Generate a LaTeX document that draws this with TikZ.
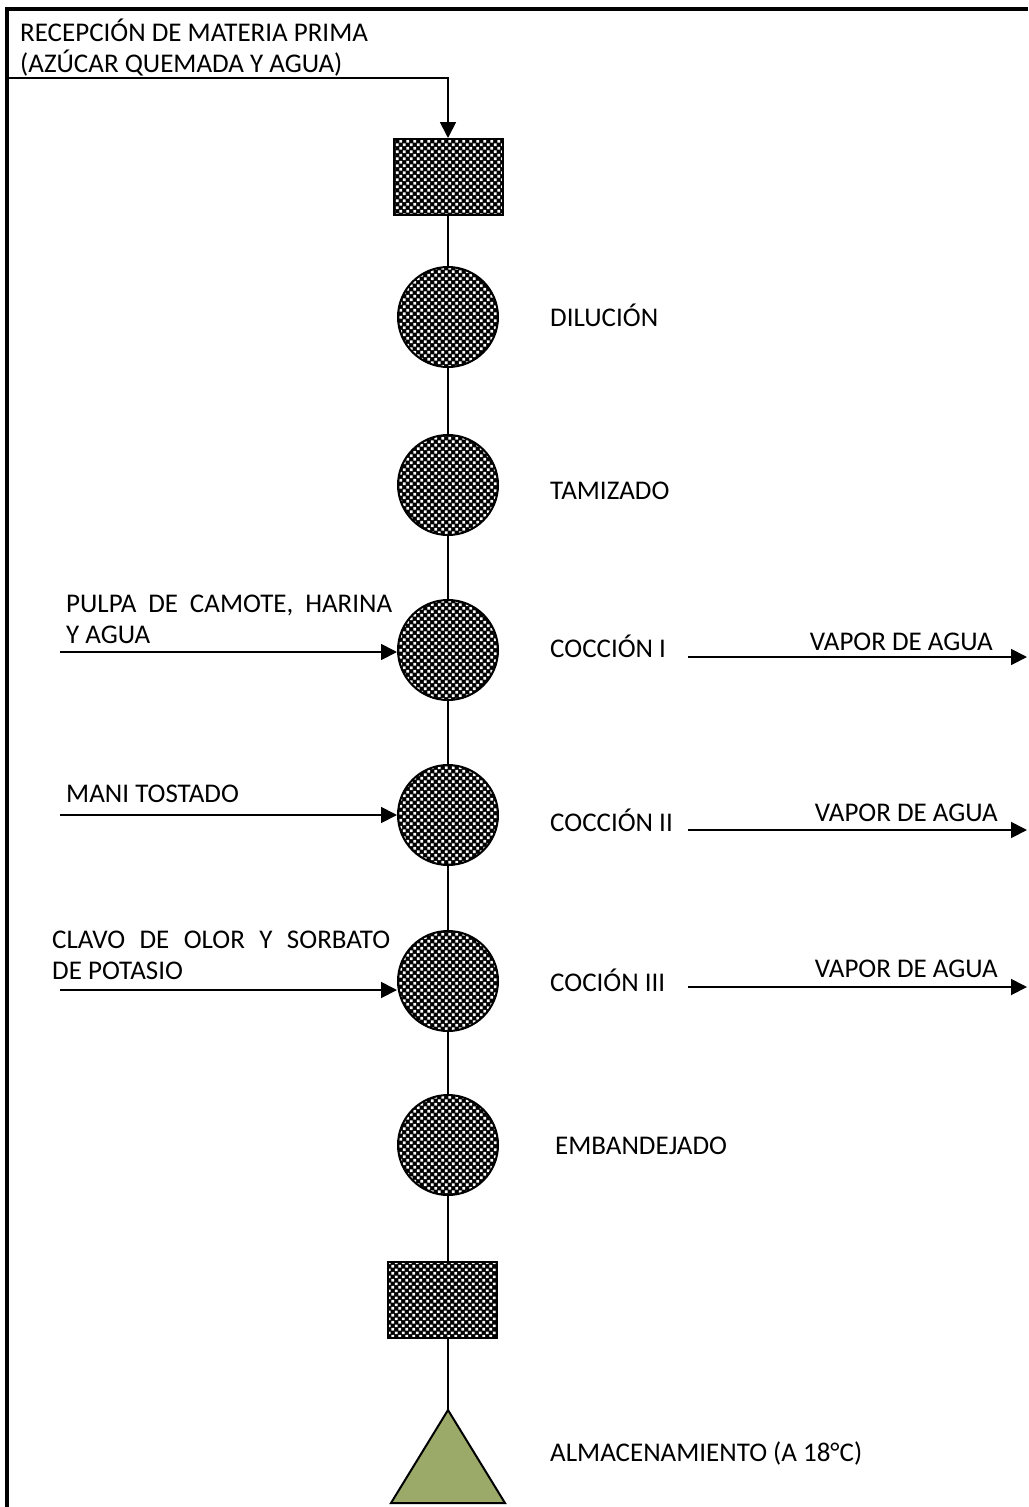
\documentclass[tikz,border=0pt]{standalone}
\usepackage{fontspec}
\setmainfont{Carlito}
\usetikzlibrary{arrows.meta,patterns.meta,calc}

% fine black/white checker used inside the process symbols
\tikzdeclarepattern{
  name=finecheck,
  type=colored,
  bounding box={(0pt,0pt) and (7.4pt,7.4pt)},
  tile size={(7.4pt,7.4pt)},
  code={
    \fill[black] (0pt,0pt) rectangle (7.4pt,7.4pt);
    \fill[white] (0.4pt,0.4pt) rectangle (3.3pt,3.3pt);
    \fill[white] (4.1pt,4.1pt) rectangle (7pt,7pt);
  }
}

\definecolor{storegreen}{RGB}{155,170,104}

\tikzset{
  stepcircle/.style={circle, draw, line width=2pt, minimum size=100pt,
    inner sep=0pt, pattern=finecheck},
  stepbox/.style={rectangle, draw, line width=2pt, minimum width=109pt,
    minimum height=76pt, inner sep=0pt, pattern=finecheck},
  flow/.style={line width=1.6pt},
  feed/.style={line width=1.8pt, -{Triangle[length=16pt,width=16pt]}},
  lbl/.style={anchor=base west, inner sep=0pt, font=\fontsize{27}{31}\selectfont},
}

\begin{document}
\begin{tikzpicture}[x=1pt,y=-1pt]
\useasboundingbox (0,0) rectangle (1028,1507);

% frame
\draw[line width=4pt] (6.5,1507) -- (6.5,9) -- (1028,9);

% process symbols
\node[stepbox]    (b1) at (448,177)  {};
\node[stepcircle] (c1) at (448,317)  {};
\node[stepcircle] (c2) at (448,485)  {};
\node[stepcircle] (c3) at (448,650)  {};
\node[stepcircle] (c4) at (448,815)  {};
\node[stepcircle] (c5) at (448,981)  {};
\node[stepcircle] (c6) at (448,1145) {};
\node[stepbox]    (b2) at (442.5,1300) {};

% storage triangle
\draw[line width=2pt, fill=storegreen] (448,1410) coordinate (alm)
  -- (505,1503) -- (391,1503) -- cycle;

% main line
\draw[flow] (b1.south) -- (c1.north);
\draw[flow] (c1.south) -- (c2.north);
\draw[flow] (c2.south) -- (c3.north);
\draw[flow] (c3.south) -- (c4.north);
\draw[flow] (c4.south) -- (c5.north);
\draw[flow] (c5.south) -- (c6.north);
\draw[flow] (c6.south) -- (c6.south |- b2.north);
\draw[flow] (b2.south -| alm) -- (alm);

% raw material input (two lines; base anchor sits on the last line)
\node[lbl, align=left] (rec) at (20,72)
  {RECEPCIÓN DE MATERIA PRIMA\\(AZÚCAR QUEMADA Y AGUA)};
\coordinate (src) at (8,78);
\draw[feed] (src) -- (src -| b1.north) -- (b1.north);

% step labels
\node[lbl] (t1) at (550,326)  {DILUCIÓN};
\node[lbl] (t2) at (550,499)  {TAMIZADO};
\node[lbl] (t3) at (550,657)  {COCCIÓN I};
\node[lbl] (t4) at (550,831)  {COCCIÓN II};
\node[lbl] (t5) at (550,991)  {COCIÓN III};
\node[lbl] (t6) at (555,1154) {EMBANDEJADO};
\node[lbl] (t7) at (550,1461) {ALMACENAMIENTO (A 18°C)};

% side inputs
\node[lbl, align=left] (l1) at (66,643)
  {\makebox[326pt][s]{PULPA DE CAMOTE, HARINA}\\Y AGUA};
\coordinate (i1) at (60,652);
\draw[feed] (i1) -- (i1 -| c3.west);

\node[lbl] (l2) at (66,802) {MANI TOSTADO};
\coordinate (i2) at (60,815);
\draw[feed] (i2) -- (c4.west);

\node[lbl, align=left] (l3) at (52,979)
  {\makebox[338pt][s]{CLAVO DE OLOR Y SORBATO}\\DE POTASIO};
\coordinate (i3) at (60,990);
\draw[feed] (i3) -- (i3 -| c5.west);

% vapour outputs
\coordinate (o1) at (688,657);
\coordinate (e1) at (1027,657);
\draw[feed] (o1) -- (e1);
\node[lbl, anchor=base east] (v1) at (993,650) {VAPOR DE AGUA};

\coordinate (o2) at (688,830);
\coordinate (e2) at (1027,830);
\draw[feed] (o2) -- (e2);
\node[lbl, anchor=base east] (v2) at (998,821) {VAPOR DE AGUA};

\coordinate (o3) at (688,987);
\coordinate (e3) at (1027,987);
\draw[feed] (o3) -- (e3);
\node[lbl, anchor=base east] (v3) at (998,977) {VAPOR DE AGUA};
\end{tikzpicture}
\end{document}
